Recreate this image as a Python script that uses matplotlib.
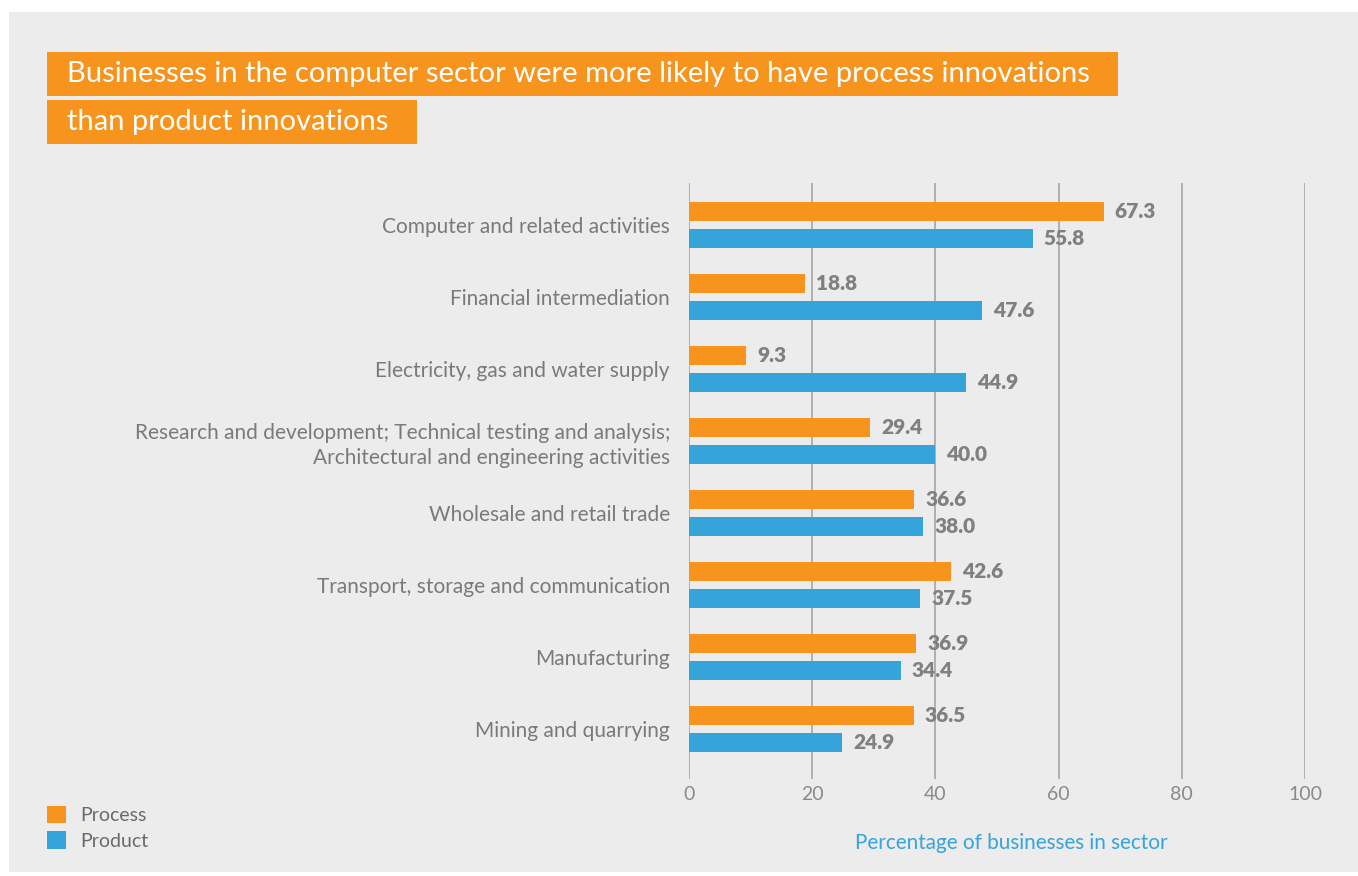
import matplotlib
matplotlib.use("Agg")
import matplotlib.pyplot as plt
from matplotlib.patches import Rectangle, Patch
import numpy as np

# Sector data (percent of businesses)
sectors = [
    "Computer and related activities",
    "Financial intermediation",
    "Electricity, gas and water supply",
    "Research and development; Technical testing and analysis;\nArchitectural and engineering activities",
    "Wholesale and retail trade",
    "Transport, storage and communication",
    "Manufacturing",
    "Mining and quarrying",
]
process = [67.3, 18.8, 9.3, 29.4, 36.6, 42.6, 36.9, 36.5]
product = [55.8, 47.6, 44.9, 40.0, 38.0, 37.5, 34.4, 24.9]
xticks = [0, 20, 40, 60, 80, 100]

ORANGE = "#f7941d"
BLUE = "#35a4db"
BG = "#ececec"
FONT = "Lato"

W, H = 1358, 876
fig = plt.figure(figsize=(W / 100, H / 100), dpi=100)
fig.patch.set_facecolor("white")

# grey panel
fig.patches.append(Rectangle((9 / W, 4 / H), 1 - 9 / W, 1 - 16 / H,
                             transform=fig.transFigure, facecolor=BG,
                             edgecolor="none", zorder=-2))

# title boxes
fig.patches.append(Rectangle((47 / W, 1 - 96 / H), (1118 - 47) / W, 44 / H,
                             transform=fig.transFigure, facecolor=ORANGE,
                             edgecolor="none", zorder=1))
fig.patches.append(Rectangle((47 / W, 1 - 144 / H), (417 - 47) / W, 44 / H,
                             transform=fig.transFigure, facecolor=ORANGE,
                             edgecolor="none", zorder=1))
fig.text(67 / W, 1 - 74 / H,
         "Businesses in the computer sector were more likely to have process innovations",
         color="white", fontsize=21, family=FONT, va="center", ha="left", zorder=2)
fig.text(67 / W, 1 - 122 / H, "than product innovations",
         color="white", fontsize=21, family=FONT, va="center", ha="left", zorder=2)

ax = fig.add_axes([689 / W, 97 / H, (1305 - 689) / W, (779 - 183) / H])
ax.set_facecolor("none")
ax.set_zorder(3)

y = np.arange(len(sectors))
off = 0.1875
bh = 0.264
ax.barh(y - off, process, height=bh, color=ORANGE, zorder=3)
ax.barh(y + off, product, height=bh, color=BLUE, zorder=3)

for yi, v in zip(y - off, process):
    ax.annotate(f"{v:.1f}", (v, yi), xytext=(11, 0), textcoords="offset pixels",
                va="center", ha="left", fontsize=15, fontweight="heavy",
                color="#808080", family=FONT, zorder=4)
for yi, v in zip(y + off, product):
    ax.annotate(f"{v:.1f}", (v, yi), xytext=(11, 0), textcoords="offset pixels",
                va="center", ha="left", fontsize=15, fontweight="heavy",
                color="#808080", family=FONT, zorder=4)

ax.set_xlim(0, 100)
ax.set_ylim(7.694, -0.583)
ax.set_xticks(xticks)
ax.set_xticklabels([str(t) for t in xticks], fontsize=14, color="#8a8a8a", family=FONT)
ax.set_yticks(y)
ax.set_yticklabels(sectors, fontsize=15, color="#7a7a7a", family=FONT,
                   ha="right", multialignment="right", linespacing=1.3)
ax.tick_params(axis="both", length=0)
ax.tick_params(axis="x", pad=5)
ax.tick_params(axis="y", pad=13.7)
ax.grid(axis="x", color="#a6a6a6", linewidth=1.2, zorder=1)
for s in ax.spines.values():
    s.set_visible(False)

fig.text(1011 / W, 1 - 843 / H, "Percentage of businesses in sector",
         color=BLUE, fontsize=14.9, family=FONT, ha="center", va="center")

handles = [Patch(facecolor=ORANGE, label="Process"),
           Patch(facecolor=BLUE, label="Product")]
leg = fig.legend(handles=handles, loc="upper left",
                 bbox_to_anchor=(47 / W, 1 - 806 / H), frameon=False,
                 handlelength=1.0, handleheight=1.0, handletextpad=0.7,
                 labelspacing=0.35, borderpad=0, borderaxespad=0,
                 prop={"family": FONT, "size": 14})
for t in leg.get_texts():
    t.set_color("#6a6a6a")

fig.savefig("out.png", dpi=100, facecolor=fig.get_facecolor())
